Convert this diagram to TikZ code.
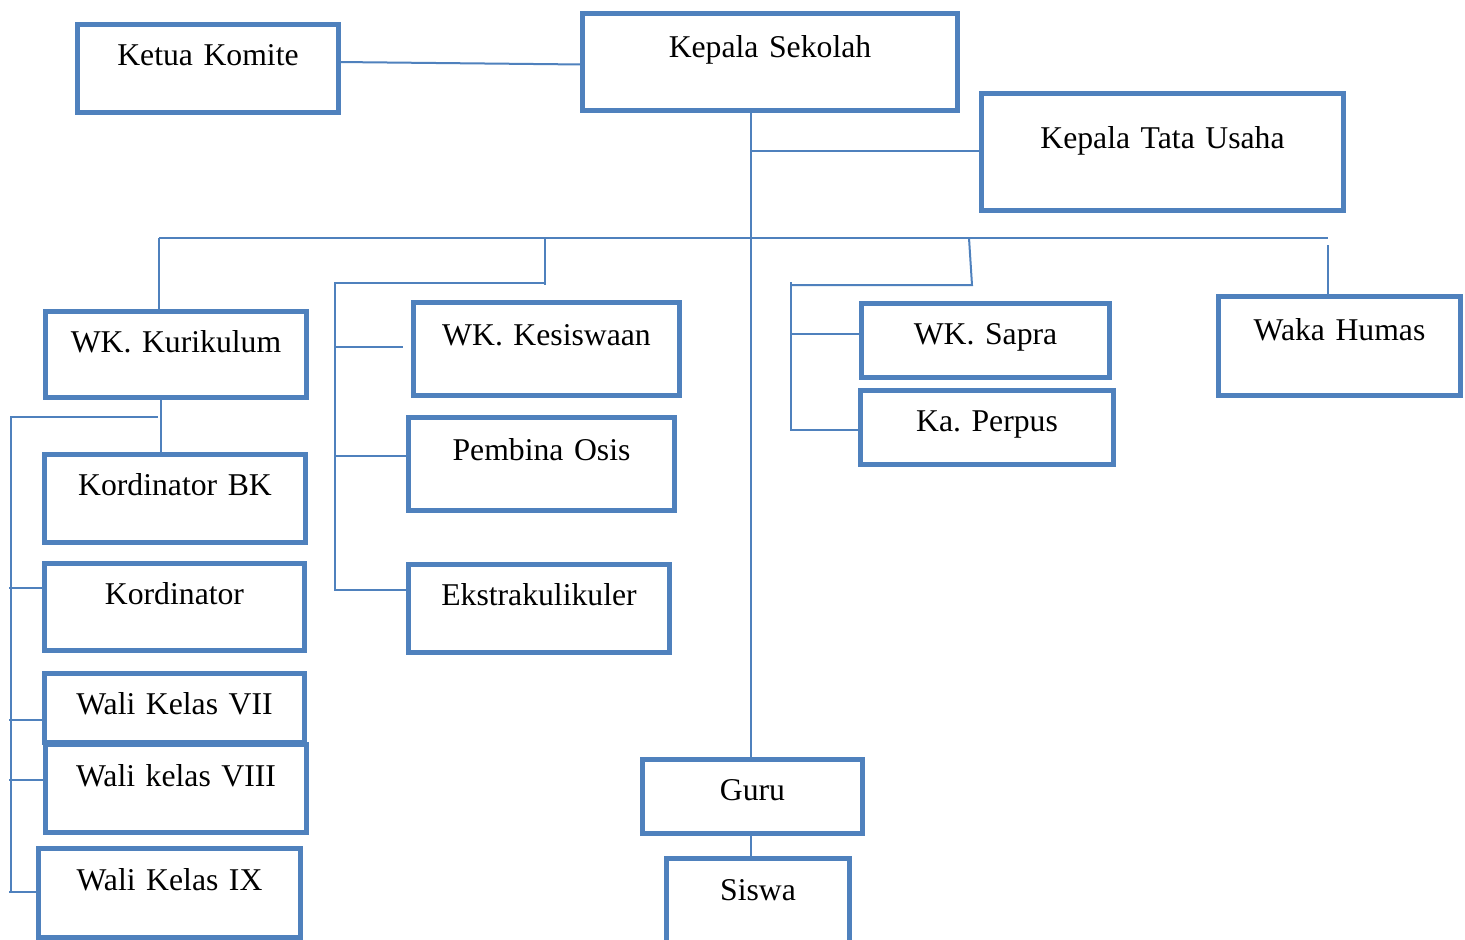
\documentclass[tikz,border=0pt]{standalone}
\usepackage{fontspec}
\setmainfont{Liberation Serif}
\frenchspacing
\definecolor{boxblue}{RGB}{79,129,189}
\tikzset{
  obox/.style={draw=boxblue, line width=5pt, fill=white, inner sep=0pt, outer sep=0pt, align=center,
    font=\fontsize{31.7}{38}\selectfont\frenchspacing, text=black},
  conn/.style={draw=boxblue, line width=2pt}
}
\newcommand\orgbox[7]{%
  \pgfmathsetmacro\obw{#4-#2-5}%
  \pgfmathsetmacro\oba{#6-#3-2.5}%
  \pgfmathsetmacro\obb{#5-#6-2.5}%
  \node[obox, anchor=north west, text width=\obw pt, text height=\oba pt, text depth=\obb pt] (#1) at (#2+2.5,#3+2.5) {#7};%
}
\begin{document}
\begin{tikzpicture}[x=1pt,y=-1pt]
\useasboundingbox[fill=white] (0,0) rectangle (1465,940);
\coordinate (kv) at (751,112);
\coordinate (kt) at (751,151);
\coordinate (busL) at (159,238);
\coordinate (busR) at (1328,238);
\coordinate (hm) at (1328,245);
\coordinate (ks1) at (545,238);
\coordinate (ks2) at (545,285);
\coordinate (ks3) at (545,283);
\coordinate (ks4) at (335,283);
\coordinate (ks5) at (335,590);
\coordinate (ks6) at (335,347);
\coordinate (ks7) at (403,347);
\coordinate (ks8) at (335,456);
\coordinate (sp1) at (969,238);
\coordinate (sp2) at (972,285);
\coordinate (sp3) at (791,285);
\coordinate (sp0) at (791,282);
\coordinate (sp4) at (791,430);
\coordinate (sp5) at (791,334);
\coordinate (kr1) at (161,400);
\coordinate (kr2) at (158,417);
\coordinate (kr3) at (11,417);
\coordinate (kr4) at (11,892);
\coordinate (kr5) at (9,588);
\coordinate (kr6) at (9,720);
\coordinate (kr7) at (9,780);
\coordinate (kr8) at (9,892);
\coordinate (gs) at (751,836);

\orgbox{komite}{75}{22}{341}{115}{65}{Ketua Komite}
\orgbox{kepsek}{580}{11}{960}{113}{57}{Kepala Sekolah}
\orgbox{ktu}{979}{91}{1346}{213}{148}{Kepala Tata Usaha}
\orgbox{kurikulum}{43}{309}{309}{400}{352}{WK. Kurikulum}
\orgbox{kesiswaan}{411}{300}{682}{398}{345}{WK. Kesiswaan}
\orgbox{pembina}{406}{415}{677}{513}{460}{Pembina Osis}
\orgbox{ekstra}{406}{562}{672}{655}{605}{Ekstrakulikuler}
\orgbox{sapra}{859}{301}{1112}{380}{344}{WK. Sapra}
\orgbox{perpus}{858}{388}{1116}{467}{431}{Ka. Perpus}
\orgbox{humas}{1216}{294}{1463}{398}{340}{Waka Humas}
\orgbox{kordbk}{42}{452}{308}{545}{495}{Kordinator BK}
\orgbox{kord}{42}{561}{307}{653}{604}{Kordinator}
\orgbox{wali7}{42}{671}{307}{745}{714}{Wali Kelas VII}
\orgbox{wali8}{43}{742}{309}{835}{786}{Wali kelas VIII}
\orgbox{wali9}{36}{846}{303}{940}{890}{Wali Kelas IX}
\orgbox{guru}{640}{757}{865}{836}{800}{Guru}
\orgbox{siswa}{664}{856}{852}{975}{900}{Siswa}

\draw[conn] ([yshift=6.5pt]komite.east) -- ([yshift=-2.5pt]kepsek.west);
\draw[conn] (kv) -- (kv |- guru.north);
\draw[conn] (kt) -- (kt -| ktu.west);
\draw[conn] (busL) -- (busR);
\draw[conn] (busL) -- (busL |- kurikulum.north);
\draw[conn] (hm) -- (hm |- humas.north);
\draw[conn] (ks1) -- (ks2);
\draw[conn] (ks3) -- (ks4) -- (ks5) -- (ks5 -| ekstra.west);
\draw[conn] (ks6) -- (ks7);
\draw[conn] (ks8) -- (ks8 -| pembina.west);
\draw[conn] (sp1) -- (sp2) -- (sp3);
\draw[conn] (sp0) -- (sp4) -- (sp4 -| perpus.west);
\draw[conn] (sp5) -- (sp5 -| sapra.west);
\draw[conn] (kr1) -- (kr1 |- kordbk.north);
\draw[conn] (kr2) -- (kr3) -- (kr4);
\draw[conn] (kr5) -- (kr5 -| kord.west);
\draw[conn] (kr6) -- (kr6 -| wali7.west);
\draw[conn] (kr7) -- (kr7 -| wali8.west);
\draw[conn] (kr8) -- (kr8 -| wali9.west);
\draw[conn] (gs) -- (gs |- siswa.north);
\end{tikzpicture}
\end{document}
